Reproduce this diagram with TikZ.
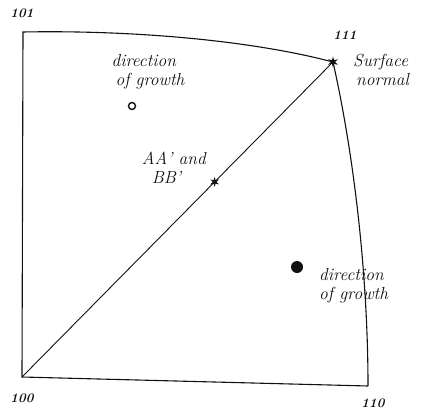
\documentclass[tikz,border=0pt]{standalone}
\usepackage{tikz}
\usetikzlibrary{shapes.geometric}
\definecolor{ink}{HTML}{111111}
\tikzset{
  hand/.style={font=\itshape\fontsize{17.5}{19}\selectfont,text=ink,align=left,inner sep=1pt},
  idx/.style={font=\bfseries\itshape\fontsize{13}{13}\selectfont,text=ink,inner sep=1pt},
  starmark/.style={star,star points=6,star point ratio=2.6,fill=ink,inner sep=0pt,minimum size=11pt},
  edge/.style={ink,line width=1.1pt}
}
\begin{document}
\begin{tikzpicture}[x=1pt,y=-1pt]
  \useasboundingbox (0,0) rectangle (441,412);
  % corners of the triangle
  \coordinate (c100) at (22,377);
  \coordinate (c101) at (23,32);
  \coordinate (c110) at (368,386);
  \node[starmark] (c111) at (333,62) {};
  \draw[edge] (c110) -- (c100) -- (c101) .. controls (130,30) and (250,40) .. (c111.center);
  \draw[edge] (c111.center) .. controls (355,160) and (368,280) .. (c110);
  \draw[ink,line width=0.9pt] (c100) -- node[pos=0.624,starmark,minimum size=10pt] (aabb) {} (c111);
  % growth directions
  \draw[ink,line width=1.4pt] (132,106) circle (3.5pt);
  \node[circle,fill=ink,inner sep=0pt,minimum size=12pt] (dot) at (297,267) {};
  % labels
  \node[idx] at (22,13) {101};
  \node[idx] at (345,35) {111};
  \node[idx] at (22,398) {100};
  \node[idx] at (373,403) {110};
  \node[hand,anchor=west] at (352,70) {Surface\\\hspace*{3pt}normal};
  \node[hand] at (148,72) {direction\\\hspace*{4pt}of growth};
  \node[hand,anchor=east] (aalab) at (207,168) {AA' and\\\hspace*{10pt}BB'};
  \node[hand,anchor=west] at (318,286) {direction\\of growth};
\end{tikzpicture}
\end{document}
